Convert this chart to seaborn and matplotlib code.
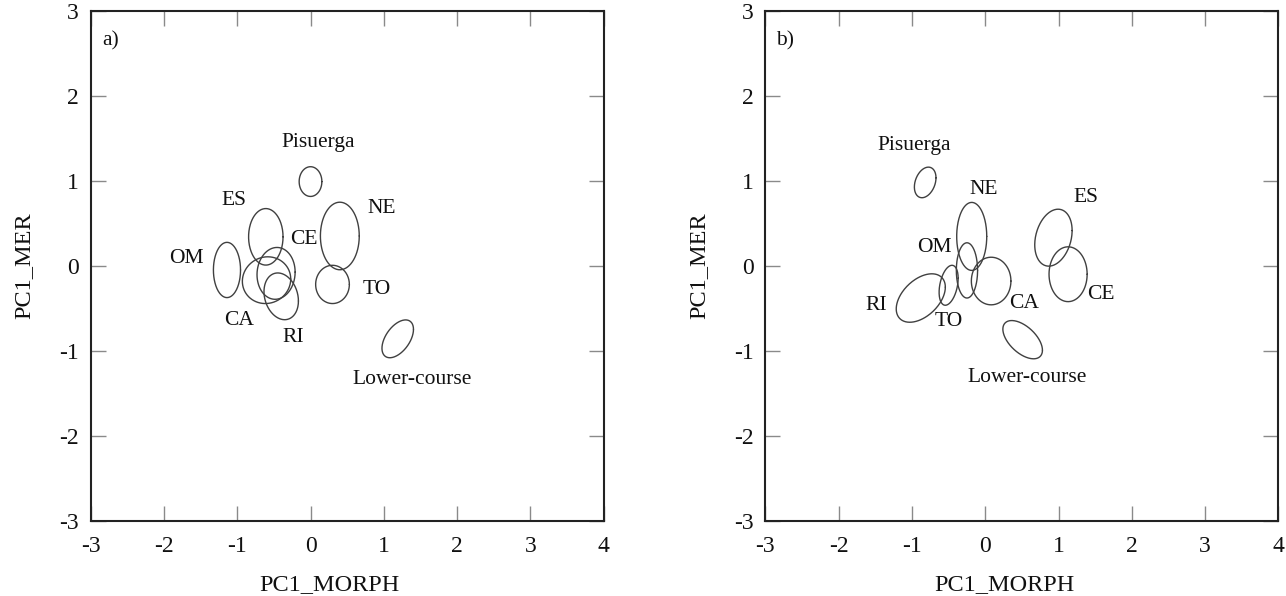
import numpy as np
import pandas as pd
import matplotlib
matplotlib.use("Agg")
import matplotlib.pyplot as plt
import seaborn as sns

# ---------------- data ----------------
groups_a = ["Pisuerga", "ES", "NE", "OM", "CE", "CA", "RI", "TO", "Lower-course"]
cx_a = [0.00, -0.61, 0.40, -1.14, -0.47, -0.60, -0.40, 0.30, 1.19]
cy_a = [0.99, 0.34, 0.35, -0.05, -0.09, -0.17, -0.36, -0.22, -0.86]
w_a = [0.31, 0.47, 0.53, 0.37, 0.52, 0.66, 0.47, 0.46, 0.43]
h_a = [0.35, 0.665, 0.795, 0.65, 0.61, 0.55, 0.55, 0.45, 0.445]
rho_a = [0.0, 0.0, 0.0, 0.0, 0.05, 0.05, -0.2, 0.0, 0.5]
lab_x_a = [0.10, -1.045, 0.97, -1.69, -0.094, -0.975, -0.23, 0.90, 1.39]
lab_y_a = [1.45, 0.763, 0.677, 0.09, 0.305, -0.64, -0.84, -0.28, -1.335]

groups_b = ["Pisuerga", "NE", "ES", "OM", "RI", "TO", "CA", "CE", "Lower-course"]
cx_b = [-0.82, -0.185, 0.93, -0.25, -0.88, -0.50, 0.08, 1.13, 0.51]
cy_b = [0.98, 0.345, 0.33, -0.055, -0.38, -0.23, -0.18, -0.10, -0.87]
w_b = [0.295, 0.41, 0.51, 0.29, 0.67, 0.26, 0.54, 0.52, 0.54]
h_b = [0.36, 0.80, 0.67, 0.65, 0.57, 0.47, 0.56, 0.645, 0.45]
rho_b = [0.3, 0.0, 0.25, 0.0, 0.45, 0.35, 0.0, 0.0, -0.55]
lab_x_b = [-0.969, -0.026, 1.37, -0.69, -1.49, -0.50, 0.53, 1.58, 0.573]
lab_y_b = [1.41, 0.895, 0.80, 0.21, -0.47, -0.66, -0.445, -0.34, -1.316]

panel_tags = ["a)", "b)"]
x_ticks = [-3, -2, -1, 0, 1, 2, 3, 4]
y_ticks = [-3, -2, -1, 0, 1, 2, 3]
x_label = "PC1_MORPH"
y_label = "PC1_MER"

# ---------------- style ----------------
sns.set_theme(style="white")
plt.rcParams["font.family"] = ["Liberation Serif", "DejaVu Serif"]
plt.rcParams["axes.unicode_minus"] = False

fig = plt.figure(figsize=(12.86, 5.96), dpi=100)
ax_a = fig.add_axes([0.0705, 0.1263, 0.3989, 0.8557])
ax_b = fig.add_axes([0.5952, 0.1263, 0.3989, 0.8557])


def ellipse_frame(groups, cx, cy, w, h, rho):
    t = np.linspace(0, 2 * np.pi, 200)
    rows = []
    for g, x0, y0, ww, hh, r in zip(groups, cx, cy, w, h, rho):
        sx, sy = ww / 2, hh / 2
        xs = x0 + sx * np.cos(t)
        ys = y0 + sy * (r * np.cos(t) + np.sqrt(1 - r * r) * np.sin(t))
        rows.append(pd.DataFrame({"x": xs, "y": ys, "group": g}))
    return pd.concat(rows, ignore_index=True)


def draw(ax, tag, groups, cx, cy, w, h, rho, lx, ly, ylab_x):
    df = ellipse_frame(groups, cx, cy, w, h, rho)
    sns.lineplot(data=df, x="x", y="y", units="group", estimator=None, sort=False,
                 color="#404040", linewidth=1.0, ax=ax, legend=False)
    for g, x, y in zip(groups, lx, ly):
        ax.text(x, y, g, ha="center", va="center", fontsize=15.5, color="#111111")
    ax.text(-2.73, 2.65, tag, ha="center", va="center", fontsize=15.5, color="#111111")
    ax.set_xlim(-3, 4)
    ax.set_ylim(-3, 3)
    ax.set_xticks(x_ticks)
    ax.set_yticks(y_ticks)
    ax.tick_params(axis="both", which="both", direction="in", length=10.5, width=1.0,
                   color="#8a8a8a", labelsize=17, labelcolor="#111111",
                   top=True, right=True, bottom=True, left=True)
    ax.tick_params(axis="x", pad=11)
    ax.tick_params(axis="y", pad=8.5)
    for s in ax.spines.values():
        s.set_visible(True)
        s.set_color("#222222")
        s.set_linewidth(1.5)
    ax.set_xlabel(x_label, fontsize=17.5, color="#111111")
    ax.set_ylabel(y_label, fontsize=17.5, color="#111111")
    ax.xaxis.set_label_coords(0.465, -0.105)
    ax.yaxis.set_label_coords(ylab_x, 0.5)


draw(ax_a, panel_tags[0], groups_a, cx_a, cy_a, w_a, h_a, rho_a, lab_x_a, lab_y_a, -0.110)
draw(ax_b, panel_tags[1], groups_b, cx_b, cy_b, w_b, h_b, rho_b, lab_x_b, lab_y_b, -0.110)

fig.savefig("out.png", dpi=100)
